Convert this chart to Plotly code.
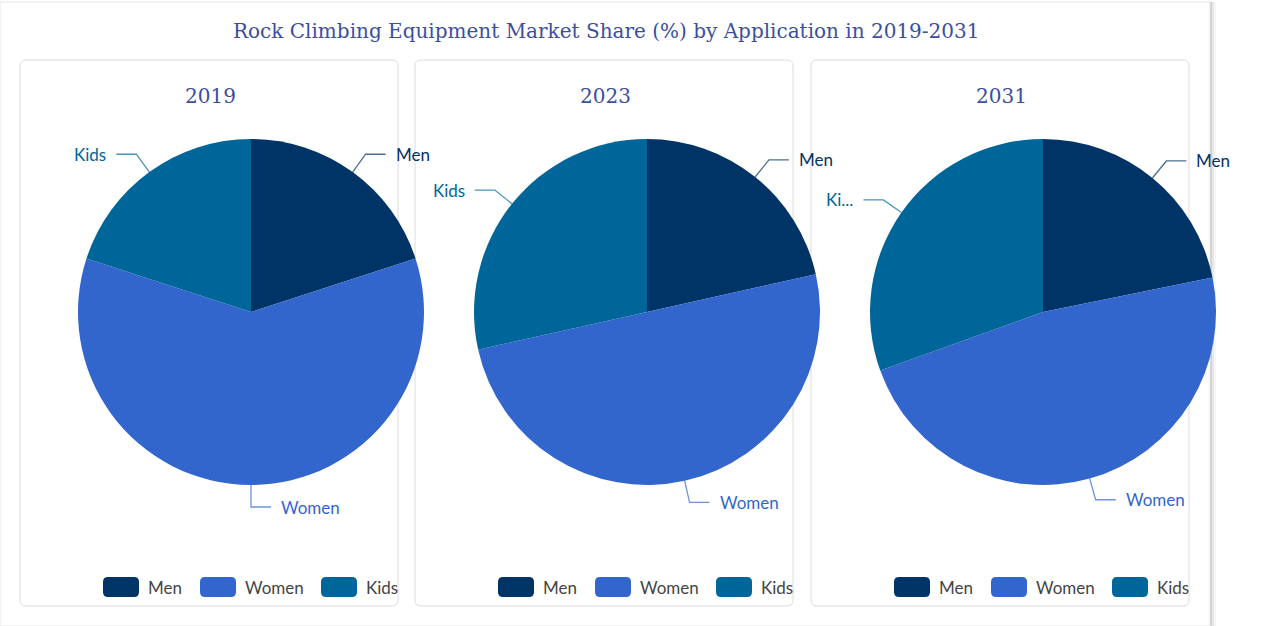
import math
import plotly.graph_objects as go

W, H = 1287, 626

# data
years = ["2019", "2023", "2031"]
categories = ["Men", "Women", "Kids"]
men = [20.0, 21.5, 21.8]
women = [60.0, 50.0, 47.7]
kids = [20.0, 28.5, 30.5]
# label texts as shown next to each slice (the last one is cut short)
slice_labels = [["Men", "Women", "Kids"], ["Men", "Women", "Kids"], ["Men", "Women", "Ki..."]]

colors = ["#003366", "#3366cc", "#006699"]
title_color = "#3b4f9c"
serif = "DejaVu Serif, Liberation Serif, serif"
sans = "Lato, Open Sans, sans-serif"


def px(x):
    return x / W


def py(y):
    return 1 - y / H


def rounded_rect(x0, y0, x1, y1, r):
    # pixel coords -> svg path in paper coords
    p = lambda x, y: f"{px(x)},{py(y)}"
    return (f"M{p(x0 + r, y0)} L{p(x1 - r, y0)} Q{p(x1, y0)} {p(x1, y0 + r)} "
            f"L{p(x1, y1 - r)} Q{p(x1, y1)} {p(x1 - r, y1)} L{p(x0 + r, y1)} "
            f"Q{p(x0, y1)} {p(x0, y1 - r)} L{p(x0, y0 + r)} Q{p(x0, y0)} {p(x0 + r, y0)} Z")


fig = go.Figure()
shapes = []
annotations = []

# outer card with a soft shadow on the right
for i, op in enumerate([0.10, 0.06, 0.03]):
    shapes.append(dict(type="rect", xref="paper", yref="paper", layer="below",
                       x0=px(0), x1=px(1212 + 2 * i), y0=py(626), y1=py(2),
                       line=dict(width=0), fillcolor=f"rgba(0,0,0,{op})"))
shapes.append(dict(type="rect", xref="paper", yref="paper", layer="below",
                   x0=px(0), x1=px(1210), y0=py(626), y1=py(2),
                   line=dict(color="#e6e6e6", width=1), fillcolor="white"))

card_left = [20, 415, 811]
card_w = 380
centers = [251, 647, 1043]
cy = 312
R = 173
L1, L2, GAP = 22, 20, 8
legend_off = [83, 180, 301]

for k, year in enumerate(years):
    vals = [men[k], women[k], kids[k]]
    cx = centers[k]
    fig.add_trace(go.Pie(
        labels=categories, values=vals, sort=False, direction="clockwise",
        rotation=0, textinfo="none", marker=dict(colors=colors, line=dict(width=0)),
        domain=dict(x=[px(cx - R), px(cx + R)], y=[py(cy + R), py(cy - R)]),
        showlegend=False, hovertemplate="%{label}: %{value}%<extra>" + year + "</extra>",
    ))

    x0 = card_left[k]
    shapes.append(dict(type="path", xref="paper", yref="paper", layer="below",
                       path=rounded_rect(x0, 60, x0 + card_w - 2, 606, 6),
                       line=dict(color="#dcdcdc", width=1), fillcolor="white"))
    annotations.append(dict(x=px(x0 + card_w / 2), y=py(96), xref="paper", yref="paper",
                            text=year, showarrow=False, xanchor="center", yanchor="middle",
                            font=dict(family=serif, size=20, color=title_color)))

    # outside labels with elbow leader lines
    total = sum(vals)
    start = 0.0
    for j, v in enumerate(vals):
        mid = (start + v / 2) / total * 2 * math.pi
        start += v
        sx, sy = math.sin(mid), -math.cos(mid)
        ex, ey = cx + R * sx, cy + R * sy
        bx, by = cx + (R + L1) * sx, cy + (R + L1) * sy
        side = 1 if sx >= -1e-9 else -1
        tx = bx + side * L2
        shapes.append(dict(type="path", xref="paper", yref="paper",
                           path=f"M{px(ex)},{py(ey)} L{px(bx)},{py(by)} L{px(tx)},{py(by)}",
                           line=dict(color=colors[j], width=1.3), opacity=0.7))
        annotations.append(dict(x=px(tx + side * GAP), y=py(by), xref="paper", yref="paper",
                                text=slice_labels[k][j], showarrow=False,
                                xanchor="left" if side > 0 else "right", yanchor="middle",
                                font=dict(family=sans, size=17, color=colors[j])))

    # legend for this card
    for j, cat in enumerate(categories):
        lx = x0 + legend_off[j]
        shapes.append(dict(type="path", xref="paper", yref="paper",
                           path=rounded_rect(lx, 577, lx + 36, 597, 5),
                           line=dict(width=0), fillcolor=colors[j]))
        annotations.append(dict(x=px(lx + 43), y=py(587), xref="paper", yref="paper",
                                text=cat, showarrow=False, xanchor="left", yanchor="middle",
                                font=dict(family=sans, size=17, color="#444444")))

annotations.append(dict(x=px(606), y=py(31), xref="paper", yref="paper",
                        text="Rock Climbing Equipment Market Share (%) by Application in 2019-2031",
                        showarrow=False, xanchor="center", yanchor="middle",
                        font=dict(family=serif, size=20, color=title_color)))

fig.update_layout(
    width=W, height=H, margin=dict(l=0, r=0, t=0, b=0),
    paper_bgcolor="white", plot_bgcolor="white",
    shapes=shapes, annotations=annotations, showlegend=False,
)

fig.write_html("out.html", config=dict(displayModeBar=False),
               post_script="document.body.style.margin='0';document.body.style.overflow='hidden';")
